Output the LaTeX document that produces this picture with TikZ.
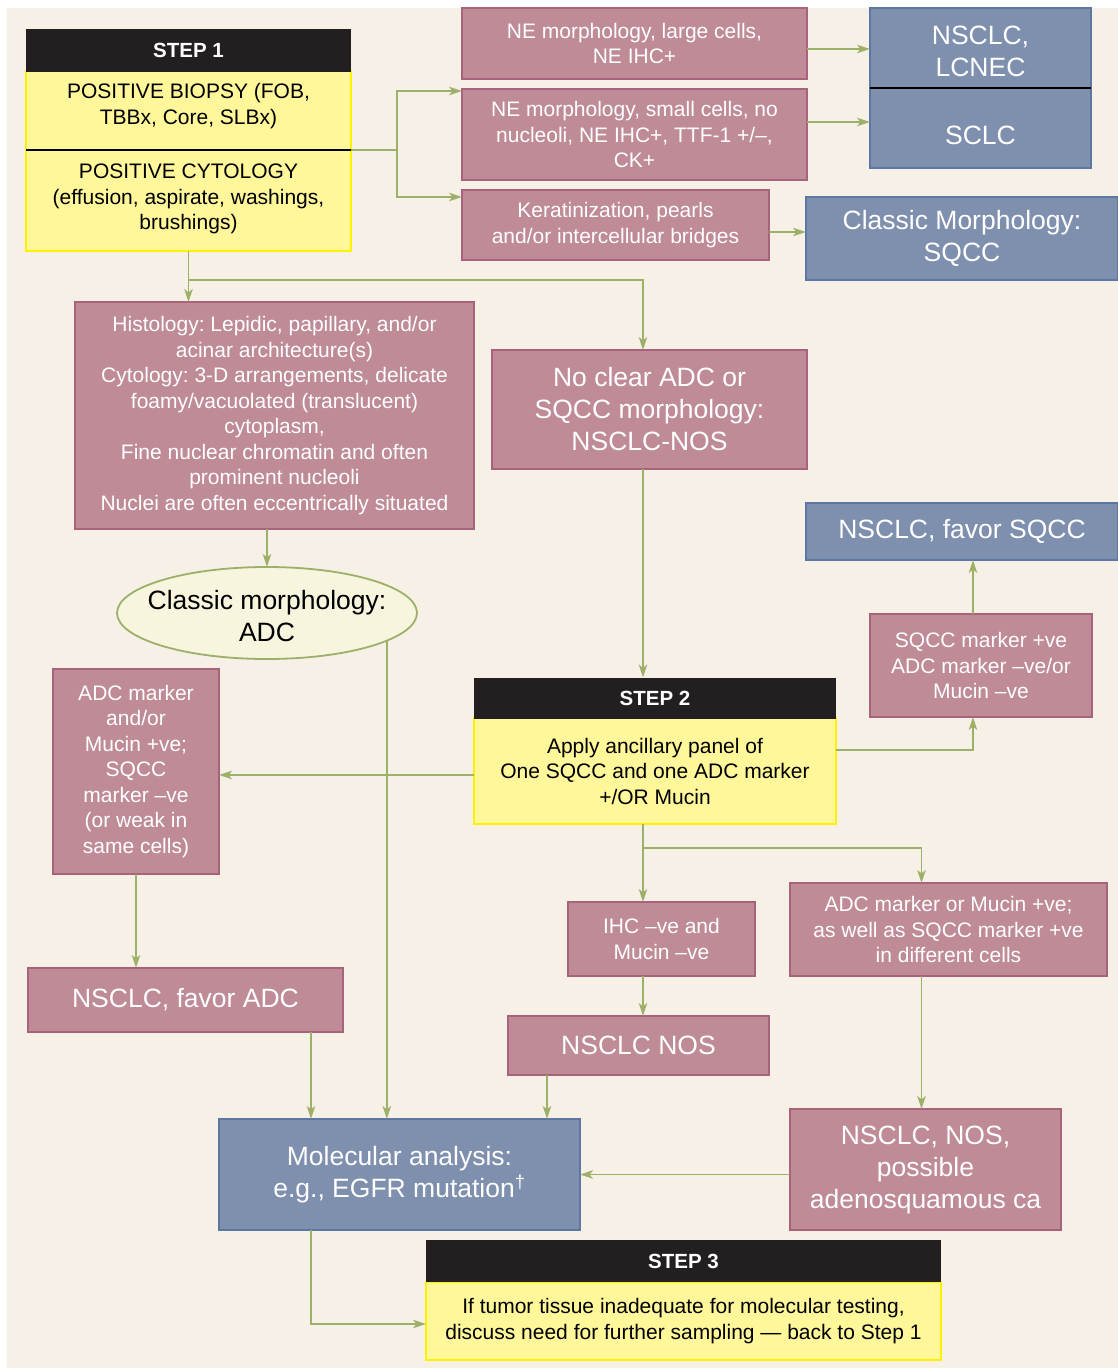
\documentclass[tikz,border=0pt]{standalone}
\usepackage{fontspec}
\setmainfont{Liberation Sans}
\usetikzlibrary{arrows.meta,shapes.geometric,calc}
\frenchspacing
\definecolor{bgc}{HTML}{F7F0E6}
\definecolor{pinkf}{HTML}{BE8B97}
\definecolor{pinkd}{HTML}{A8627B}
\definecolor{bluef}{HTML}{7F8FAE}
\definecolor{blued}{HTML}{5C77A2}
\definecolor{ylwf}{HTML}{FFF799}
\definecolor{ylwd}{HTML}{FFF200}
\definecolor{hdr}{HTML}{231F20}
\definecolor{grn}{HTML}{9DB06A}
\definecolor{ellf}{HTML}{F8F5DF}
\newcommand\fsml{\fontsize{21}{25.5}\selectfont\frenchspacing}
\newcommand\fbg{\fontsize{26.5}{32}\selectfont\frenchspacing}
\newcommand\fhd{\fontsize{20.5}{24}\selectfont\bfseries}
\tikzset{
  conn/.style={draw=grn, line width=1.8pt},
  arr/.style={conn, -{Stealth[length=13pt,width=8.5pt,inset=3.5pt]}},
  basebox/.style={rectangle, inner sep=0pt, outer sep=0pt, align=center, line width=1.8pt},
  pinkbox/.style={basebox, draw=pinkd, fill=pinkf, text=white, font=\fsml},
  bluebox/.style={basebox, draw=blued, fill=bluef, text=white, font=\fbg},
  headbox/.style={basebox, fill=hdr, text=white, font=\fhd},
  ybody/.style={basebox, draw=ylwd, fill=ylwf, text=black, font=\fsml},
  txt/.style={inner sep=0pt, align=center},
}
\begin{document}
\begin{tikzpicture}[x=1pt,y=-1pt]
\useasboundingbox (0,0) rectangle (1118,1368);
\fill[bgc] (7,8) rectangle (1118,1368);

% STEP 1
\node[ybody, minimum width=325, minimum height=180] (s1body) at (188.5,161) {};
\node[headbox, minimum width=325, minimum height=43] (s1head) at (188.5,50) {STEP 1};
\coordinate (div) at (188.5,150);
\draw[black, line width=1.2pt] (s1body.west |- div) -- (s1body.east |- div);
\node[txt, font=\fsml] (s1bio) at (188.5,106) {POSITIVE BIOPSY (FOB,\\TBBx, Core, SLBx)};
\node[txt, font=\fsml] (s1cyt) at (188.5,199) {POSITIVE CYTOLOGY\\(effusion, aspirate, washings,\\brushings)};

% top right
\node[pinkbox, minimum width=345, minimum height=71] (nelarge) at (634.5,43.5) {NE morphology, large cells,\\NE IHC+};
\node[pinkbox, minimum width=345, minimum height=91] (nesmall) at (634.5,134.5) {NE morphology, small cells, no\\nucleoli, NE IHC+, TTF-1 +/–,\\CK+};
\node[pinkbox, minimum width=307, minimum height=70] (kerat) at (615.5,225) {Keratinization, pearls\\and/or intercellular bridges};
\node[bluebox, minimum width=221, minimum height=160] (nsclc) at (980.5,88) {};
\draw[black, line width=1.2pt] (nsclc.west) -- (nsclc.east);
\node[txt, font=\fbg, text=white] (lcnec) at (980.5,51) {NSCLC,\\LCNEC};
\node[txt, font=\fbg, text=white] (sclc) at (980.5,135) {SCLC};
\node[bluebox, minimum width=312, minimum height=83] (clsqcc) at (962,238.5) {Classic Morphology:\\SQCC};

% middle
\node[pinkbox, minimum width=399, minimum height=227] (hist) at (274.5,415.5) {Histology: Lepidic, papillary, and/or\\acinar architecture(s)\\Cytology: 3-D arrangements, delicate\\foamy/vacuolated (translucent)\\cytoplasm,\\Fine nuclear chromatin and often\\prominent nucleoli\\Nuclei are often eccentrically situated};
\node[pinkbox, font=\fbg, minimum width=315, minimum height=119] (noclear) at (649.5,409.5) {No clear ADC or\\SQCC morphology:\\NSCLC-NOS};
\node[ellipse, draw=grn, fill=ellf, line width=1.8pt, minimum width=300, minimum height=92, inner sep=0pt, outer sep=0pt] (ell) at (267,613) {};
\node[txt, font=\fbg] (elltxt) at (267,616) {Classic morphology:\\ADC};
\node[bluebox, minimum width=312, minimum height=57] (favsqcc) at (962,531.5) {NSCLC, favor SQCC};
\node[pinkbox, minimum width=222, minimum height=103] (sqccm) at (981,665.5) {SQCC marker +ve\\ADC marker –ve/or\\Mucin –ve};

% STEP 2
\node[ybody, minimum width=362, minimum height=106] (s2body) at (655,771) {Apply ancillary panel of\\One SQCC and one ADC marker\\+/OR Mucin};
\node[headbox, minimum width=362, minimum height=41] (s2head) at (655,698) {STEP 2};
\node[pinkbox, minimum width=166, minimum height=205] (adcm) at (136,771.5) {ADC marker\\and/or\\Mucin +ve;\\SQCC\\marker –ve\\(or weak in\\same cells)};

% lower
\node[pinkbox, minimum width=187, minimum height=74] (ihc) at (661.5,939) {IHC –ve and\\Mucin –ve};
\node[pinkbox, minimum width=317, minimum height=93] (adcmuc) at (948.5,929.5) {ADC marker or Mucin +ve;\\as well as SQCC marker +ve\\in different cells};
\node[pinkbox, font=\fbg, minimum width=315, minimum height=64] (favadc) at (185.5,1000) {NSCLC, favor ADC};
\node[pinkbox, font=\fbg, minimum width=261, minimum height=59] (nos) at (638.5,1045.5) {NSCLC NOS};
\node[bluebox, minimum width=361, minimum height=111] (mol) at (399.5,1174.5) {Molecular analysis:\\e.g., EGFR mutation\textsuperscript{†}};
\node[pinkbox, font=\fbg, minimum width=271, minimum height=121] (adenosq) at (925.5,1169.5) {NSCLC, NOS,\\possible\\adenosquamous ca};

% STEP 3
\node[ybody, minimum width=515, minimum height=78] (s3body) at (683.5,1321) {If tumor tissue inadequate for molecular testing,\\discuss need for further sampling — back to Step 1};
\node[headbox, minimum width=515, minimum height=42] (s3head) at (683.5,1261) {STEP 3};

% connectors
\coordinate (split) at (397,150);
\coordinate (trunk) at (643,280);
\coordinate (j2) at (643,848);
\draw[conn] (s1body.east |- div) -- (split);
\draw[arr] (split) |- ([yshift=-2pt]nesmall.north west);
\draw[arr] (split) |- ([yshift=-7pt]kerat.north west);
\draw[arr] ([yshift=-5.5pt]nelarge.east) -- ([yshift=-5.5pt]nelarge.east -| nsclc.west);
\draw[arr] ([yshift=12.5pt]nesmall.east) -- ([yshift=12.5pt]nesmall.east -| nsclc.west);
\draw[arr] ([yshift=-7pt]kerat.east) -- ([yshift=-7pt]kerat.east -| clsqcc.west);
\draw[arr] (s1body.south) -- (s1body.south |- hist.north);
\draw[arr] (s1body.south |- trunk) -| (trunk |- noclear.north);
\draw[arr] (ell.north |- hist.south) -- (ell.north);
\draw[arr] (ell.-13.5) -- (ell.-13.5 |- mol.north);
\draw[arr] (trunk |- noclear.south) -- (trunk |- s2head.north);
\draw[arr] ([yshift=21pt]s2body.east) -| ([xshift=-8pt]sqccm.south);
\draw[arr] ([xshift=-8pt]sqccm.north) -- ([xshift=-8pt]sqccm.north |- favsqcc.south);
\draw[arr] ([yshift=-4pt]s2body.west) -- ([yshift=-4pt]s2body.west -| adcm.east);
\draw[arr] (adcm.south) -- (adcm.south |- favadc.north);
\draw[arr] (trunk |- s2body.south) -- (trunk |- ihc.north);
\draw[arr] (j2) -| ([xshift=-27pt]adcmuc.north);
\draw[arr] (trunk |- ihc.south) -- (trunk |- nos.north);
\draw[arr] ([xshift=-27pt]adcmuc.south) -- ([xshift=-27pt]adcmuc.south |- adenosq.north);
\draw[arr] ([xshift=-91.5pt]nos.south) -- ([xshift=-91.5pt]nos.south |- mol.north);
\draw[arr] ([xshift=125.5pt]favadc.south) -- ([xshift=125.5pt]favadc.south |- mol.north);
\draw[arr] (adenosq.west |- mol.east) -- (mol.east);
\draw[arr] ([xshift=-88.5pt]mol.south) |- ([yshift=-3pt]s3body.west);
\end{tikzpicture}
\end{document}
